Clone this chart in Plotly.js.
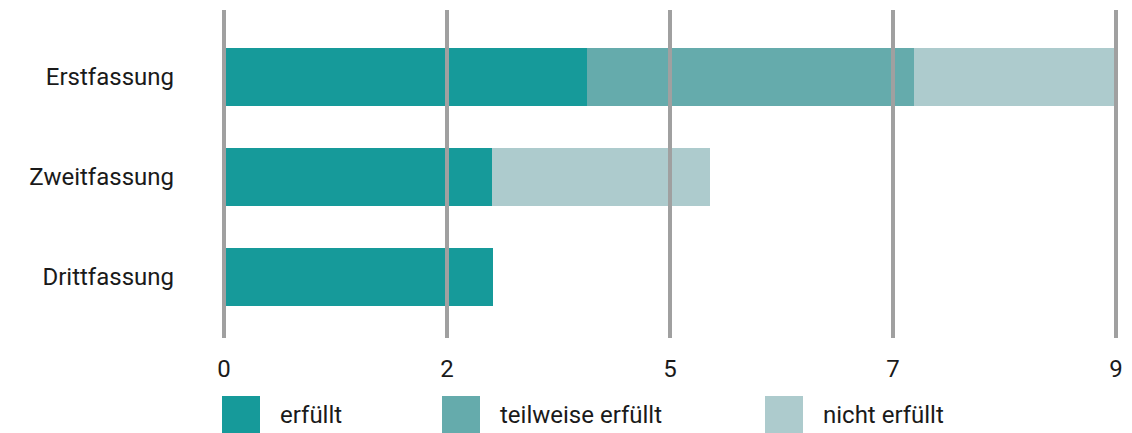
<!DOCTYPE html>
<html>
<head>
<meta charset="utf-8">
<script src="https://cdn.plot.ly/plotly-3.0.1.min.js"></script>
<style>html,body{margin:0;padding:0;background:#fff;}#chart{width:1132px;height:433px;}</style>
</head>
<body>
<div id="chart"></div>
<script>
const categories = ["Erstfassung", "Zweitfassung", "Drittfassung"];
const seriesNames = ["erfüllt", "teilweise erfüllt", "nicht erfüllt"];
const erfuellt = [3.66, 2.70, 2.71];
const teilweise = [3.30, 0, 0];
const nichtErfuellt = [2.04, 2.20, 0];
const tickVals = [0, 2.25, 4.5, 6.75, 9];
const tickText = ["0", "2", "5", "7", "9"];
const colors = ["#169a9a", "#65abac", "#adcbcd"];

const W = 1132, H = 433;
const M = {l: 224, r: 16, t: 10, b: 95};
const pw = W - M.l - M.r, ph = H - M.t - M.b;
const FONT = "Roboto, 'Liberation Sans', sans-serif";
const xRange = [0, 9];

const seriesValues = [erfuellt, teilweise, nichtErfuellt];
const traces = seriesValues.map((vals, i) => ({
  type: "bar",
  orientation: "h",
  name: seriesNames[i],
  x: vals,
  y: categories,
  width: 0.58,
  marker: {color: colors[i], line: {width: 0}},
  hoverinfo: "x+name"
}));

// grid lines above bars, paper-referenced so edge lines are not clipped
const val2paper = v => (v - xRange[0]) / (xRange[1] - xRange[0]);
const shapes = tickVals.map(v => ({
  type: "line", xref: "paper", yref: "paper",
  x0: val2paper(v), x1: val2paper(v), y0: 0, y1: 1,
  line: {color: "#a0a0a0", width: 4},
  layer: "above"
}));

// custom legend (layout positions in pixels)
const legendLeftPx = [222, 442, 765];
const sq = 38, sqTopPx = 396, textGap = 58;
const px2x = p => (p - M.l) / pw;
const px2y = p => (H - M.b - p) / ph;
const annotations = [];
legendLeftPx.forEach((lx, i) => {
  shapes.push({
    type: "rect", xref: "paper", yref: "paper",
    x0: px2x(lx), x1: px2x(lx + sq), y0: px2y(sqTopPx), y1: px2y(sqTopPx + sq),
    fillcolor: colors[i], line: {width: 0}, layer: "above"
  });
  annotations.push({
    xref: "paper", yref: "paper",
    x: px2x(lx + textGap - 2), y: px2y(sqTopPx + sq / 2),
    xanchor: "left", yanchor: "middle",
    text: seriesNames[i], showarrow: false,
    font: {family: FONT, size: 24, color: "#1a1a1a"}
  });
});

const layout = {
  width: W, height: H,
  margin: M,
  paper_bgcolor: "#fff", plot_bgcolor: "#fff",
  barmode: "stack",
  showlegend: false,
  font: {family: FONT, size: 24, color: "#1a1a1a"},
  xaxis: {
    range: xRange, tickvals: tickVals, ticktext: tickText,
    showgrid: false, zeroline: false, showline: false, ticks: "",
    ticklabelstandoff: 14,
    tickfont: {family: FONT, size: 24, color: "#1a1a1a"}
  },
  yaxis: {
    type: "category", categoryorder: "array", categoryarray: categories,
    range: [2.61, -0.67], autorange: false,
    showgrid: false, zeroline: false, showline: false, ticks: "",
    ticklabelstandoff: 49,
    tickfont: {family: FONT, size: 24, color: "#1a1a1a"}
  },
  shapes: shapes,
  annotations: annotations
};

Plotly.newPlot("chart", traces, layout, {staticPlot: true, displayModeBar: false});
</script>
</body>
</html>
